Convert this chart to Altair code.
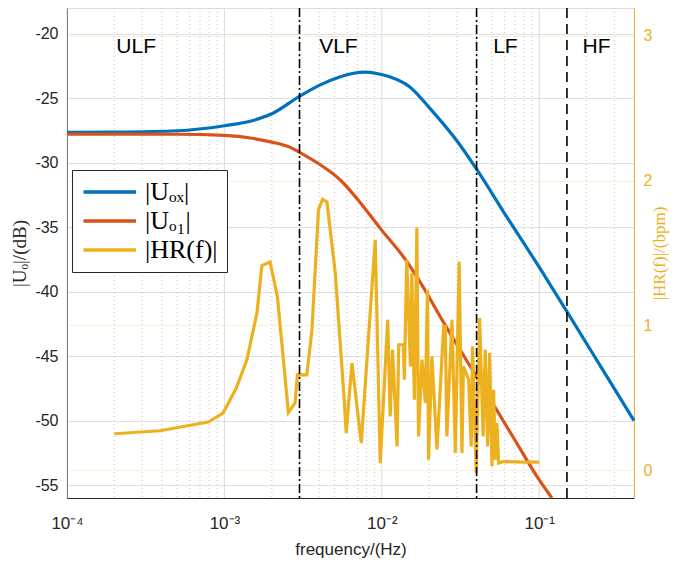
import altair as alt
import pandas as pd

# |U_ox| (dB)
freq_ox = [1e-4, 2e-4, 5e-4, 1e-3, 1.5e-3, 2e-3, 3e-3, 4e-3, 5.45e-3, 6.5e-3, 7.8e-3, 9.3e-3,
           1.12e-2, 1.5e-2, 2.02e-2, 3.03e-2, 4e-2, 6e-2, 0.1, 0.15, 0.25, 0.4]
db_ox = [-27.64, -27.62, -27.52, -27.13, -26.74, -26.2, -24.85, -24.0, -23.33, -23.08, -22.97, -23.08,
         -23.33, -24.1, -25.78, -28.37, -30.5, -33.9, -38.1, -41.55, -45.95, -50.0]

# |U_o1| (dB)
freq_o1 = [1e-4, 5e-4, 1e-3, 1.5e-3, 2e-3, 2.62e-3, 3e-3, 4e-3, 5.45e-3, 7.3e-3, 9.77e-3,
           1.41e-2, 1.69e-2, 2.5e-2, 4e-2, 7e-2, 0.1, 0.1204]
db_o1 = [-27.78, -27.79, -27.88, -28.1, -28.4, -28.81, -29.19, -30.1, -31.34, -33.1, -35.09,
         -37.5, -38.95, -42.5, -46.6, -51.5, -54.6, -56.0]

# |HR(f)| (bpm)
freq_hr = [2.0e-4, 3.9e-4, 7.9e-4, 9.8e-4, 1.19e-3, 1.39e-3, 1.61e-3, 1.73e-3, 1.95e-3, 2.17e-3,
           2.55e-3, 2.81e-3, 2.91e-3, 3.34e-3, 3.60e-3, 3.96e-3, 4.2e-3, 4.48e-3, 5.06e-3, 5.71e-3, 5.94e-3,
           6.46e-3, 7.40e-3, 9.08e-3, 9.77e-3, 1.09e-2, 1.13e-2, 1.17e-2, 1.25e-2, 1.28e-2, 1.37e-2,
           1.39e-2, 1.44e-2, 1.52e-2, 1.55e-2, 1.61e-2, 1.67e-2, 1.71e-2, 1.80e-2, 1.89e-2, 1.95e-2,
           1.98e-2, 2.08e-2, 2.24e-2, 2.47e-2, 2.53e-2, 2.59e-2, 2.79e-2, 2.93e-2, 3.10e-2, 3.23e-2,
           3.30e-2, 3.56e-2, 3.70e-2, 3.77e-2, 3.98e-2, 4.18e-2, 4.40e-2, 4.54e-2, 4.70e-2, 4.84e-2,
           5.01e-2, 5.13e-2, 5.26e-2, 5.39e-2, 5.52e-2, 5.94e-2, 7.96e-2, 0.1]
bpm_hr = [0.253, 0.274, 0.334, 0.396, 0.569, 0.764, 1.088, 1.413, 1.438, 1.201,
          0.400, 0.465, 0.660, 0.660, 0.971, 1.799, 1.87, 1.852, 1.364, 0.557, 0.258,
          0.741, 0.189, 1.592, 0.051, 1.040, 0.373, 0.833, 0.166, 0.867, 0.867,
          0.626, 1.454, 0.718, 1.362, 0.488, 1.675, 0.235, 0.764, 0.467, 1.247,
          0.074, 0.787, 0.145, 0.994, 0.994, 0.235, 1.040, 0.120, 1.439, 0.120,
          0.718, 0.626, 0.166, 0.856, -0.018, 1.052, 0.235, 0.833, 0.166, 0.810,
          0.028, 0.557, 0.074, 0.327, 0.051, 0.062, 0.058, 0.058]

series_names = ["|U\u2092\u2093|", "|U\u2092\u2081|", "|HR(f)|"]
series_colors = ["#0072BD", "#D95319", "#EDB120"]

x_major = [1e-4, 1e-3, 1e-2, 1e-1]
x_minor = [m * d for d in [1e-4, 1e-3, 1e-2, 1e-1] for m in range(2, 10) if m * d <= 0.4]
band_dashdot = [0.003, 0.04]
band_dash = [0.15]
band_labels = ["ULF", "VLF", "LF", "HF"]
band_label_f = [2.75e-4, 5.3e-3, 0.061, 0.231]
band_label_db = [-21.0, -21.0, -21.0, -21.0]

df_l = pd.DataFrame({
    "f": freq_ox + freq_o1,
    "v": db_ox + db_o1,
    "s": [series_names[0]] * len(freq_ox) + [series_names[1]] * len(freq_o1),
})
df_r = pd.DataFrame({"f": freq_hr, "v": bpm_hr, "s": series_names[2]})

TXT = "#262626"
SANS = "Liberation Sans"
SERIF = "Liberation Serif"
YEL = "#EDB120"

x_scale = alt.Scale(type="log", domain=[1e-4, 0.4], nice=False)
yl_scale = alt.Scale(domain=[-56, -18], nice=False, zero=False)
yr_scale = alt.Scale(domain=[-0.19, 3.19], nice=False, zero=False)

x_axis = alt.Axis(
    values=x_major,
    labelExpr="'10' + (datum.value < 0.0005 ? '\u207b\u2074' : datum.value < 0.005 ? '\u207b\u00b3' : datum.value < 0.05 ? '\u207b\u00b2' : '\u207b\u00b9')",
    title="frequency/(Hz)", grid=False, ticks=False, domainColor=TXT, labelFlush=False,
    labelFont=SANS, labelFontSize=17, labelColor=TXT, labelPadding=17,
    titleFont=SANS, titleFontSize=17, titleFontWeight="normal", titleColor=TXT, titlePadding=10,
)
x_enc = alt.X("f:Q", scale=x_scale, axis=x_axis)

color = alt.Color(
    "s:N",
    scale=alt.Scale(domain=series_names, range=series_colors),
    legend=alt.Legend(
        title=None, orient="none", legendX=5, legendY=162,
        symbolType="M -1 0 L 4 0", symbolSize=441, symbolStrokeWidth=3.5,
        labelFont=SERIF, labelFontSize=26, labelColor="black", labelOffset=38,
        strokeColor=TXT, fillColor="white", padding=9, rowPadding=3,
    ),
)

grid_major = alt.Chart(pd.DataFrame({"f": x_major})).mark_rule(
    color="#dcdcdc", strokeWidth=1).encode(x=x_enc)
grid_minor = alt.Chart(pd.DataFrame({"f": x_minor})).mark_rule(
    color="#c4c4c4", strokeWidth=1, strokeDash=[1, 3]).encode(x=x_enc)

yl_axis = alt.Axis(
    values=list(range(-55, -19, 5)), labelExpr="'' + datum.value",
    title="|U\u2092|/(dB)", grid=True, gridColor="#e0e0e0", ticks=False, domainColor=TXT,
    labelFont=SANS, labelFontSize=16, labelColor=TXT, labelPadding=9,
    titleFont=SERIF, titleFontSize=19, titleFontWeight="normal", titleColor=TXT, titlePadding=5,
)
lines = alt.Chart(df_l).mark_line(strokeWidth=3.2, interpolate="monotone").encode(
    x=x_enc, y=alt.Y("v:Q", scale=yl_scale, axis=yl_axis), color=color, detail="s:N")

texts = alt.Chart(pd.DataFrame({"f": band_label_f, "v": band_label_db, "t": band_labels})).mark_text(
    font=SANS, fontSize=21, color="black", baseline="middle", align="center"
).encode(x=x_enc, y=alt.Y("v:Q", scale=yl_scale), text="t:N")

left = alt.layer(grid_major, grid_minor, lines, texts)

yr_axis = alt.Axis(
    orient="right", values=[0, 1, 2, 3], title="|HR(f)|/(bpm)", grid=True, gridColor="#fbf0d2",
    ticks=False, domainColor=YEL, labelColor=YEL, labelFont=SANS, labelFontSize=16,
    labelPadding=9, titleFont=SERIF, titleFontSize=17, titleFontWeight="normal",
    titleColor=YEL, titleAngle=270, titlePadding=17,
)
hr = alt.Chart(df_r).mark_line(strokeWidth=3.2).encode(
    x=x_enc, y=alt.Y("v:Q", scale=yr_scale, axis=yr_axis), color=color)

bands1 = alt.Chart(pd.DataFrame({"f": band_dashdot})).mark_rule(
    color="black", strokeWidth=1.6, strokeDash=[9, 3, 2, 3]).encode(x=x_enc)
bands2 = alt.Chart(pd.DataFrame({"f": band_dash})).mark_rule(
    color="black", strokeWidth=1.6, strokeDash=[10, 6]).encode(x=x_enc)

chart = alt.layer(left, hr, bands1, bands2).resolve_scale(y="independent").properties(
    width=567, height=490,
    padding={"left": 59, "top": 0, "right": 36, "bottom": 64},
    autosize=alt.AutoSizeParams(type="none"),
).configure_view(stroke=TXT, strokeWidth=1).configure(background="white")

chart.save("out.html", embed_options={"renderer": "svg", "actions": False})
